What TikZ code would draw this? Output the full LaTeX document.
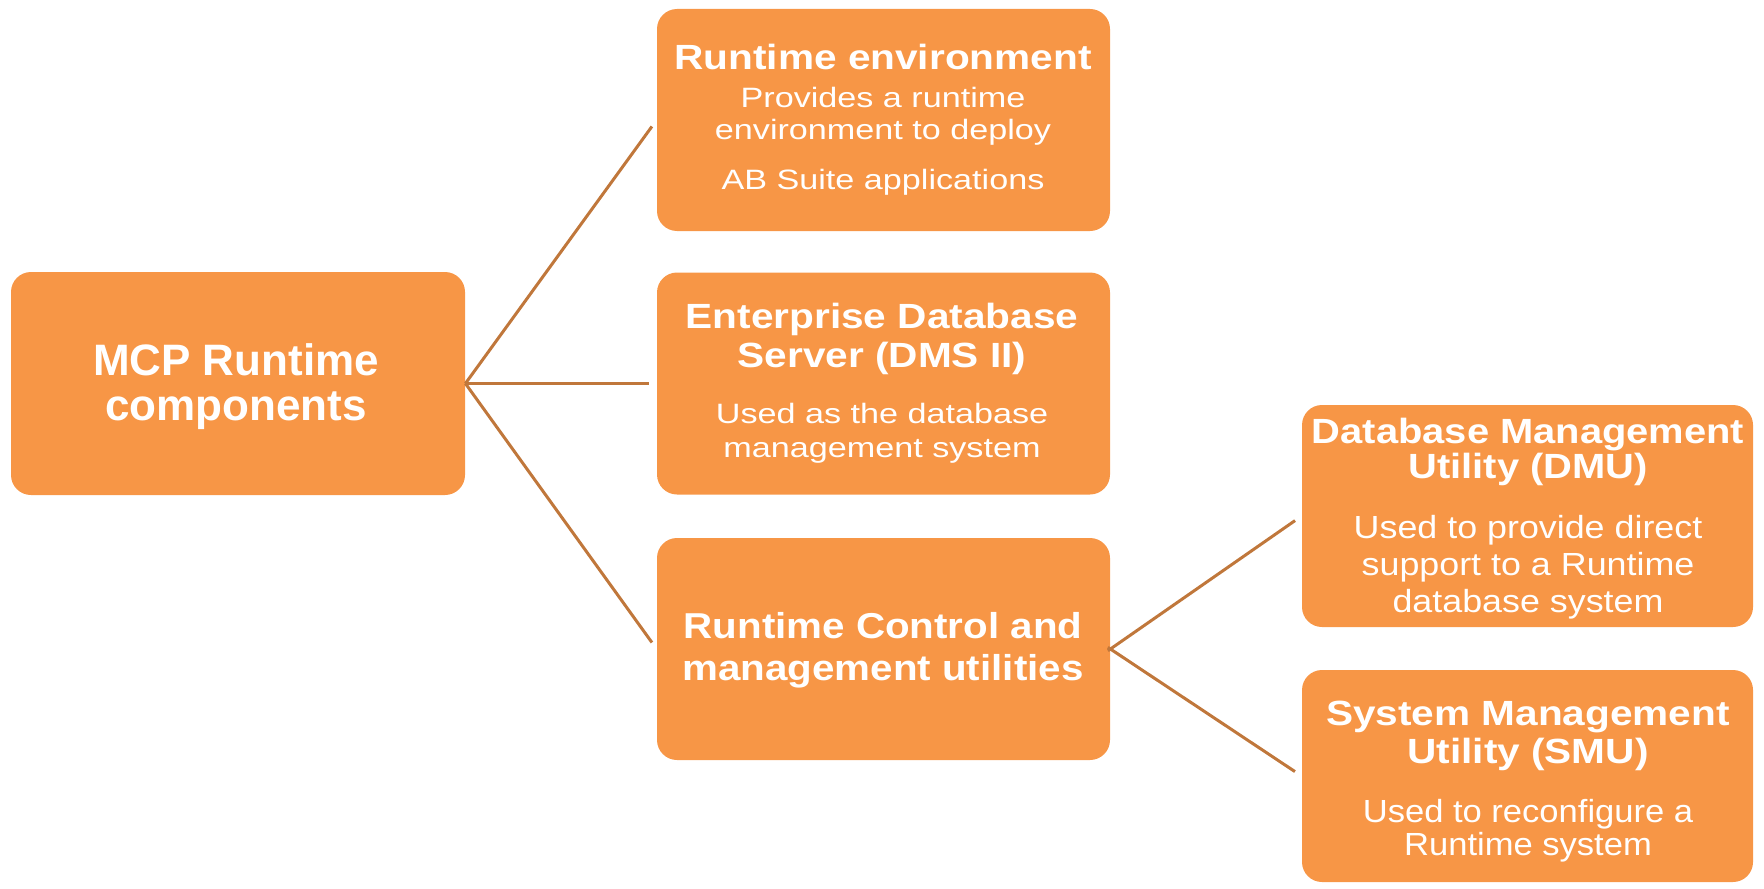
\documentclass[tikz,border=0pt]{standalone}
\usepackage{fontspec}
\setmainfont{Liberation Sans}
\newfontfamily\fA{Liberation Sans}[FakeStretch=1.16]
\newfontfamily\fB{Liberation Sans}[FakeStretch=1.22]
\newfontfamily\fC{Liberation Sans}[FakeStretch=1.12]
\newfontfamily\fD{Liberation Sans}[FakeStretch=1.08]
\newfontfamily\fE{Liberation Sans}[FakeStretch=1.14]
\definecolor{boxfill}{HTML}{F79646}
\definecolor{linkcol}{HTML}{C0773B}
\begin{document}
\begin{tikzpicture}[x=0.5pt,y=-0.5pt,
  box/.style={rectangle,rounded corners=10pt,fill=boxfill,draw=none,
    minimum width=226.5pt,minimum height=111pt,inner sep=0pt},
  txt/.style={text=white,align=center,anchor=base,inner sep=0pt},
  link/.style={draw=linkcol,line width=1.5pt,shorten >=4pt}]
\useasboundingbox (0,0) rectangle (1764,888);

% boxes
\node[box,minimum width=227pt,minimum height=111.5pt] (mcp) at (238,383.5) {};
\node[box] (env)  at (883.5,120) {};
\node[box] (db)   at (883.5,383.5) {};
\node[box] (ctrl) at (883.5,649) {};
\node[box,minimum width=225.5pt] (dmu) at (1527.5,516) {};
\node[box,minimum width=225.5pt,minimum height=106pt] (smu) at (1527.5,776) {};

% texts (anchor = baseline of the last line)
\node[txt,font=\bfseries\fontsize{22}{22.5}\selectfont] (mcp-t) at (236,420)
  {MCP Runtime\\components};

\node[txt,font=\fA\bfseries\fontsize{17.5}{19}\selectfont] (env-t) at (883,70)
  {Runtime environment};
\node[txt,font=\fB\fontsize{14}{16.5}\selectfont] (env-b) at (883,189)
  {Provides a runtime\\environment to deploy\\[8pt]AB Suite applications};

\node[txt,font=\fA\bfseries\fontsize{17.5}{19.5}\selectfont] (db-t) at (882,367)
  {Enterprise Database\\Server (DMS II)};
\node[txt,font=\fB\fontsize{14}{17}\selectfont] (db-b) at (882,457)
  {Used as the database\\management system};

\node[txt,font=\fC\bfseries\fontsize{18}{21}\selectfont] (ctrl-t) at (883,680)
  {Runtime Control and\\management utilities};

\node[txt,font=\fE\bfseries\fontsize{17.5}{17.5}\selectfont] (dmu-t) at (1528,478)
  {Database Management\\Utility (DMU)};
\node[txt,font=\fC\fontsize{16}{18.5}\selectfont] (dmu-b) at (1528,612)
  {Used to provide direct\\support to a Runtime\\database system};

\node[txt,font=\fA\bfseries\fontsize{17.5}{19}\selectfont] (smu-t) at (1528,763)
  {System Management\\Utility (SMU)};
\node[txt,font=\fD\fontsize{16}{16.5}\selectfont] (smu-b) at (1528,855)
  {Used to reconfigure a\\Runtime system};

% connectors
\draw[link] (mcp.east) -- (env.west);
\draw[link] (mcp.east) -- (db.west);
\draw[link] (mcp.east) -- (ctrl.west);
\draw[link,shorten <=-1.5pt] (ctrl.east) -- (dmu.west);
\draw[link,shorten <=-1.5pt] (ctrl.east) -- (smu.west);
\end{tikzpicture}
\end{document}
